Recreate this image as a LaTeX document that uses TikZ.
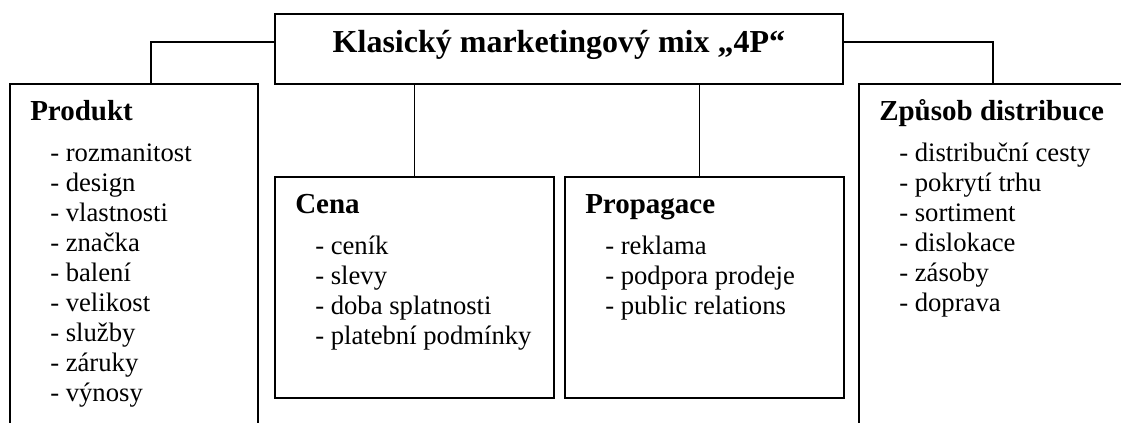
\documentclass[tikz,border=0pt]{standalone}
\usepackage{fontspec}
\setmainfont{Liberation Serif}
\tikzset{
 box/.style={draw,line width=1.4pt,inner sep=0pt,anchor=north west},
 head/.style={font=\fontsize{21.75}{26}\selectfont\bfseries,inner sep=0pt,anchor=base west},
 item/.style={font=\fontsize{20}{24}\selectfont,inner sep=0pt,anchor=base west},
 link/.style={line width=1.4pt}
}
\begin{document}
\begin{tikzpicture}[x=0.75pt,y=-0.75pt]
 \useasboundingbox (0,0) rectangle (1121,423);
 \clip (0,0) rectangle (1121,423);
 \node[box,minimum width=426pt,text height=29.25pt,text depth=23.25pt,font=\fontsize{24}{28}\selectfont\bfseries] (mix) at (274,13) {Klasický marketingový mix „4P“}; %nadpis
 \node[box,minimum width=186pt,minimum height=300pt] (produkt) at (9,83) {}; %P1
 \node[box,minimum width=209.25pt,minimum height=165.75pt] (cena) at (274,176) {}; %P2
 \node[box,minimum width=209.25pt,minimum height=165.75pt] (propagace) at (564,176) {}; %P3
 \node[box,minimum width=201pt,minimum height=300pt] (zpusob) at (858,83) {}; %P4
 \node[head] (produkt-h) at ([shift={(21,38)}]produkt.north west) {Produkt};
 \foreach \t [count=\i] in {rozmanitost,design,vlastnosti,značka,balení,velikost,služby,záruky,výnosy}
  \node[item] (produkt-\i) at ([shift={(41,49+30*\i)}]produkt.north west) {- \t};
 \node[head] (cena-h) at ([shift={(21,38)}]cena.north west) {Cena};
 \foreach \t [count=\i] in {ceník,slevy,doba splatnosti,platební podmínky}
  \node[item] (cena-\i) at ([shift={(41,49+30*\i)}]cena.north west) {- \t};
 \node[head] (propagace-h) at ([shift={(21,38)}]propagace.north west) {Propagace};
 \foreach \t [count=\i] in {reklama,podpora prodeje,public relations}
  \node[item] (propagace-\i) at ([shift={(41,49+30*\i)}]propagace.north west) {- \t};
 \node[head] (zpusob-h) at ([shift={(21,38)}]zpusob.north west) {Způsob distribuce};
 \foreach \t [count=\i] in {distribuční cesty,pokrytí trhu,sortiment,dislokace,zásoby,doprava}
  \node[item] (zpusob-\i) at ([shift={(41,49+30*\i)}]zpusob.north west) {- \t};
 \coordinate (propagace-top) at ([shift={(-5,0)}]propagace.north);
 \draw[link] ([shift={(0,-7)}]mix.west) -| ([shift={(17,0)}]produkt.north); %vlevo
 \draw[link] ([shift={(0,-7)}]mix.east) -| (zpusob.north); %vpravo
 \draw[link] (mix.south -| cena.north) -- (cena.north);
 \draw[link] (mix.south -| propagace-top) -- (propagace-top);
\end{tikzpicture}
\end{document}
